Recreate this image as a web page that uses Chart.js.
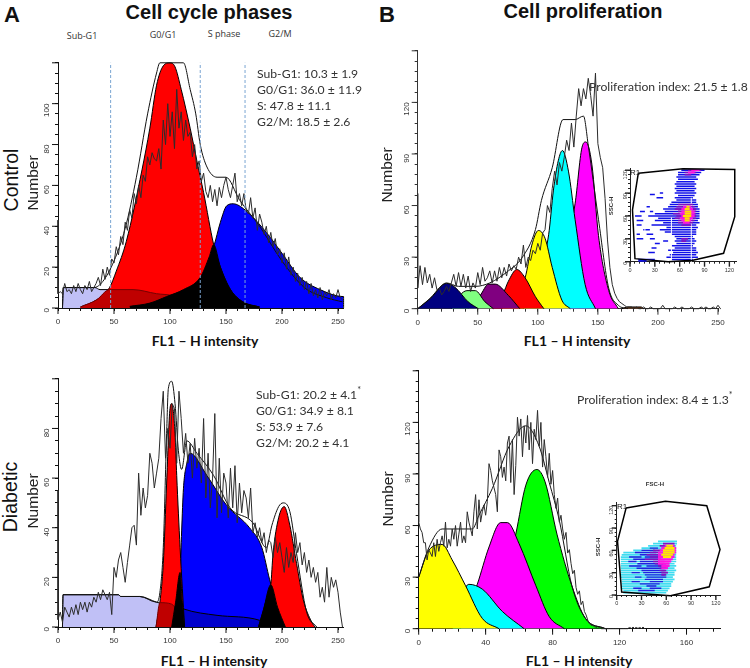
<!DOCTYPE html>
<html>
<head>
<meta charset="utf-8">
<title>Cell cycle phases and cell proliferation</title>
<script src="https://cdn.jsdelivr.net/npm/chart.js@4"></script>
<style>
  html, body { margin:0; padding:0; background:#fff; }
  #page { position:relative; width:750px; height:668px; overflow:hidden; font-family:"Liberation Sans",Arial,sans-serif; color:#111; }
  canvas { position:absolute; }
  .t { position:absolute; transform:translate(-50%,-50%); white-space:nowrap; }
  .l { position:absolute; transform:translateY(-50%); white-space:nowrap; font-family:Lato,sans-serif; font-size:12.2px; color:#333; }
  .panel { font-weight:bold; font-size:22px; }
  .title { font-weight:bold; font-size:20px; }
  .gate { font-family:"Open Sans",sans-serif; font-size:9px; color:#333; }
  .xt { font-family:Lato,sans-serif; font-weight:bold; font-size:14px; }
  .rot { transform:translate(-50%,-50%) rotate(-90deg); }
  .grp { font-size:19.5px; }
  .num { font-size:15.5px; color:#222; }
  .tiny { font-size:6px; color:#333; font-weight:bold; }
  sup { font-size:9px; line-height:0; }
</style>
</head>
<body>
<div id="page">
  <canvas id="aTop"></canvas><canvas id="bTop"></canvas><canvas id="aBot"></canvas><canvas id="bBot"></canvas>
  <canvas id="insetTop"></canvas><canvas id="insetBot"></canvas>

  <div class="t panel" style="left:12px;top:15px">A</div>
  <div class="t panel" style="left:387px;top:15px">B</div>
  <div class="t title" style="left:209px;top:12px">Cell cycle phases</div>
  <div class="t title" style="left:583px;top:11px">Cell proliferation</div>

  <div class="t gate" style="left:82px;top:35px">Sub-G1</div>
  <div class="t gate" style="left:163px;top:34px">G0/G1</div>
  <div class="t gate" style="left:224px;top:33px">S phase</div>
  <div class="t gate" style="left:280px;top:33px">G2/M</div>

  <div class="l" style="left:257px;top:73px">Sub-G1: 10.3 ± 1.9</div>
  <div class="l" style="left:257px;top:89px">G0/G1: 36.0 ± 11.9</div>
  <div class="l" style="left:257px;top:105px">S: 47.8 ± 11.1</div>
  <div class="l" style="left:257px;top:121px">G2/M: 18.5 ± 2.6</div>

  <div class="l" style="left:256px;top:394px">Sub-G1: 20.2 ± 4.1<sup>*</sup></div>
  <div class="l" style="left:256px;top:410px">G0/G1: 34.9 ± 8.1</div>
  <div class="l" style="left:256px;top:426px">S: 53.9 ± 7.6</div>
  <div class="l" style="left:256px;top:442px">G2/M: 20.2 ± 4.1</div>

  <div class="l" style="left:589px;top:86px">Proliferation index: 21.5 ± 1.8</div>
  <div class="l" style="left:577px;top:399px">Proliferation index: 8.4 ± 1.3<sup>*</sup></div>

  <div class="t xt" style="left:205px;top:340px">FL1 – H intensity</div>
  <div class="t xt" style="left:577px;top:340px">FL1 – H intensity</div>
  <div class="t xt" style="left:214px;top:660px">FL1 – H intensity</div>
  <div class="t xt" style="left:579px;top:660px">FL1 – H intensity</div>

  <div class="t rot grp" style="left:11px;top:180px">Control</div>
  <div class="t rot num" style="left:33px;top:183px">Number</div>
  <div class="t rot grp" style="left:10px;top:497px">Diabetic</div>
  <div class="t rot num" style="left:33px;top:501px">Number</div>
  <div class="t rot num" style="left:387px;top:175px">Number</div>
  <div class="t rot num" style="left:388px;top:499px">Number</div>

  <div class="t" style="left:635px;top:172px;font-size:8px">R1</div>
  <div class="t rot tiny" style="left:611px;top:206px">SSC-H</div>
  <div class="t" style="left:622px;top:506px;font-size:8px">R1</div>
  <div class="t rot tiny" style="left:598px;top:547px">SSC-H</div>
  <div class="t tiny" style="left:655px;top:484px">FSC-H</div>
</div>

<script>
const binX = [0,2,4,6,8,10,12,14,16,18,20,22,24,26,28,30,32,34,36,38,40,42,44,46,48,50,52,54,56,58,60,62,64,66,68,70,72,74,76,78,80,82,84,86,88,90,92,94,96,98,100,102,104,106,108,110,112,114,116,118,120,122,124,126,128,130,132,134,136,138,140,142,144,146,148,150,152,154,156,158,160,162,164,166,168,170,172,174,176,178,180,182,184,186,188,190,192,194,196,198,200,202,204,206,208,210,212,214,216,218,220,222,224,226,228,230,232,234,236,238,240,242,244,246,248,250,252,254];

// control, cell cycle
const aTopSpike = 43;
const aTopTrace = [7,8,7,12,8,9,7,11,8,12,9,7,11,9,13,8,10,12,15,11,19,14,20,16,24,22,30,26,35,31,42,38,48,44,56,51,60,54,65,62,74,70,76,73,72,78,68,92,80,100,84,96,78,107,88,96,82,92,84,86,74,80,68,72,62,66,57,54,60,52,58,50,59,54,60,64,58,54,60,66,52,56,50,56,48,46,54,44,49,38,46,42,36,40,32,37,30,34,26,29,22,27,19,25,16,20,13,17,11,15,9,13,7,12,6,9,5,10,4,8,6,9,4,7,5,9,5,4];
const aTopEnvX = [4,5,32,40,50,60,70,80,88,91,112,118,123,127,133,142,150,162,180,200,220,240,254];
const aTopEnvY = [0,10,10,13,23,39,64,95,115,120,120,107,95,80,69,64,64,53,40,23,10,5,3];
const aTopSubX = [4,4.5,33,37.5,67,88,103,125];
const aTopSubY = [0,10,10,9,9,7,6.4,0];
const aTopG1X = [20,34.5,46,52,61,75,82,88,94,100,104.5,110,118,124,130,139,145,154,165,180];
const aTopG1Y = [0.5,4,10,18,32.6,67.6,88,109,118.5,120,118,107,88,72,56.5,31,20,9,3,0.5];
const aTopSX = [64,82,97,112,127,139,145,150.6,156.5,167,186,201,216,234,255,255];
const aTopSY = [0.8,2.4,5.6,9,15,30,42,50,51,48,37,26,15,9,5.6,0];
const aTopDarkX = [20,34.5,46,48,67,88,103,112,125];
const aTopDarkY = [0.5,4,9,9,9,7,6,4,0];
const aTopBlackX = [64,82,97,112,127,135,139,145,154,165,180];
const aTopBlackY = [0.8,2.4,5.6,9,15,25,31,20,9,3,0.5];
const gateLines = [47,127,167];

// diabetic, cell cycle
const aBotSpike = 55;
const aBotTrace = [3,6,2,8,6,4,8,5,9,5,10,7,10,6,10,8,12,10,14,11,15,13,11,14,5,24,20,27,30,24,18,26,33,40,41,33,62,45,56,48,53,70,66,56,62,68,84,95,68,80,72,90,88,66,95,84,70,78,66,74,60,76,64,72,58,84,52,70,48,60,86,44,68,46,62,58,44,64,48,65,42,58,46,55,52,44,56,38,42,36,40,34,38,30,35,34,28,36,30,34,28,22,32,24,30,26,38,30,34,25,30,22,27,20,24,18,22,12,16,10,24,12,20,16,19,14,6,0];
const aBotEnvX = [4,4.5,54,56,73,88,91,94,97,98.5,101.5,104.5,107.5,110.4,115,124,139,153.6,174,186,191,197,201,207,213,222,231];
const aBotEnvY = [0,13,13,12.3,12.3,10,14,32,78,96,99,90,71,63.5,75,70,61,48,42,32,41,48.5,50,46.5,29.5,6,0];
const aBotSubX = [4,4.5,54,56,73,88,112,142,180,190];
const aBotSubY = [0,13,13,12.3,12.3,10,7.3,4.7,2.7,0];
const aBotG1X = [87.5,91,94,97,100,101.5,104.5,106,109,113];
const aBotG1Y = [0,10,25.6,58,88,90,78,61,32,0];
const aBotSX = [101.5,109,110.4,112,115,118,133,150.6,171,182,189,196,203];
const aBotSY = [0,20.4,38.7,55.7,66,70,61,49,40,32,19,8,0];
const aBotG2X = [179,186,190,192,197,202,207,213,219,226.5,229.5];
const aBotG2Y = [0,11,17,29.5,44,48.5,41,25.6,11,2,0];
const aBotDarkRedX = [87.5,91,101.5,113];
const aBotDarkRedY = [0,9.8,9.2,0];
const aBotDarkBlueX = [101.5,109,112,142,180,190];
const aBotDarkBlueY = [0,8,7.3,4.7,2.7,0];
const aBotBlack1X = [101.5,105,109,111,113];
const aBotBlack1Y = [0,10,22,10,0];
const aBotBlack2X = [179,183,190,196,203];
const aBotBlack2Y = [0,6,17,8,0];

// control, proliferation
const bTopSpike = 67;
const bTopTrace = [12,25,14,24,15,20,12,18,11,12,8,10,13,10,15,20,13,21,13,20,12,19,10,15,12,21,14,24,16,18,22,15,22,16,24,18,24,19,26,22,25,23,30,26,37,24,30,28,34,32,38,34,44,46,60,56,70,80,72,85,80,88,98,92,108,94,112,128,118,128,122,134,124,112,137,96,88,82,64,40,24,14,9,6,4,3,2,1,1,1,0,1,0,0,1,0,0,1,0,0,0,0,2,0,0,0,0,1,0,0,1,0,0,0,1,0,0,0,1,0,1,0,0,1,0,2,0,1,0,0];
const bTopEnvX = [0,12,24,34,48,60,75.5,86.7,98,103,112,121,131,138,142,150.5,159,167,175];
const bTopEnvY = [0,7,15,13,13,15,22,29.5,46,63,82,110,110,112,95,52,12,2,0];
const navyX = [0,9,24,31,42,50.5];           const navyY = [0,5,14.7,12.5,4,0];
const lightGreenX = [28,35,41,48,56,63];     const lightGreenY = [0,7.7,10.5,10.5,4,0];
const purpleX = [42,52,59,64.5,75.5,85];     const purpleY = [0,7.7,14.3,14.3,7.7,0];
const redX = [60,71,75.5,82.5,89.4,98,105];  const redY = [0,8.7,16,22.8,18,7,0];
const yellowX = [70,89.4,95,100.5,106,112,120,127];  const yellowY = [0,18,37,45.5,41,24,5,0];
const cyanX = [88,100,109,113,117,120.5,125.5,131,139.4,148];  const cyanY = [0,18,43,69,86,92,80,52,14,0];
const magentaX = [105,120,131,136.7,140,145,150.5,159,167];    const magentaY = [0,24,61,93.6,97,84,42.6,10.6,0];
const brownX = [170,175,186,188];            const brownY = [0,1,1,0];

// diabetic, proliferation: one value per unit, starting at 0
const bBotSpike = 110;
const bBotTrace = [62,58,56,50,50,40,46,44,42,50,42,52,45,50,54,48,62,47,52,48,58,52,60,48,55,62,50,54,50,68,62,58,54,68,78,58,75,62,68,72,66,74,96,92,86,82,78,68,104,100,88,94,86,108,112,85,110,78,95,123,112,122,100,118,108,124,104,120,96,116,110,127,106,120,94,110,100,88,102,84,92,78,70,76,62,66,58,52,56,44,46,38,32,34,24,20,22,14,16,10,8,5,3,2,2,1,1,0,1,0,0,0,0,0,0,0,0,0,0,0,0,0,0,0,0,0,1,0,1,0,1,0,1,0,1,0];
const bBotEnvX = [0,6,14,32,36,44,54,64,72,78,84,91.5,99.6,111.5];
const bBotEnvY = [30,47,58,58,66,81.6,106,118,106,85,63,25,6,0];
const bYellowX = [0,6,14,20,28,38,48];          const bYellowY = [30,45.6,49,40,25,6,0];
const bCyanX = [20,28,30,38,50,63];             const bCyanY = [0,24,25.8,23,10,0];
const bMagentaX = [25,35,42,49,53,60,70,78,87]; const bMagentaY = [0,25.8,47.5,61.7,61.7,49.4,25,7,0];
const bGreenX = [45,58,64,70.6,75.5,82.6,91.5,99.6,111.5]; const bGreenY = [0,55,83.5,92.6,85.4,55,25,6,0];

// density plots: [y, x from, x to]
const topGateX = [10,64,126.5,126.5,113,76,46,6,3,10];
const topGateY = [116,122,121,59,11,2,0,4,68,116];
const topStripes = [[50,0,58],[74,0,84],[18,26,58]];
const topBlue = [[120,62,90],[117,58,86],[114,58,84],[111,56,80],[108,58,82],[105,56,78],[102,54,80],[99,56,78],[96,54,80],[93,56,78],[90,54,80],[90,36,40],[88,24,30],[87,58,78],[84,54,76],[84,32,40],[81,56,80],[78,50,80],[75,48,82],[72,46,82],[72,20,24],[69,40,84],[66,42,84],[66,12,18],[66,24,28],[63,30,84],[60,22,84],[60,6,14],[57,34,84],[54,30,82],[54,8,16],[51,40,84],[48,26,80],[48,8,14],[45,44,82],[42,36,80],[42,16,24],[39,42,80],[36,50,80],[36,8,12],[36,20,28],[33,54,76],[30,56,78],[30,8,16],[30,24,30],[27,54,80],[27,40,46],[24,56,78],[24,30,36],[21,50,76],[18,54,80],[18,26,32],[15,46,80],[12,52,82],[12,22,30],[9,48,80],[6,44,82],[3,50,76],[3,10,30],[1,10,20]];
const topPurple = [[120,70,86],[117,66,80],[114,66,74],[75,58,76],[72,56,78],[69,54,80],[66,58,80],[63,52,80],[60,56,80],[57,54,80],[54,58,78],[51,58,76],[48,62,74],[30,62,70],[27,62,68]];
const topMagenta = [[120,74,84],[117,70,78],[72,64,74],[69,62,76],[66,62,78],[63,60,78],[60,62,78],[57,60,76],[54,62,74],[51,64,72]];
const topYellow = [[72,68,72],[69,66,72],[66,66,74],[63,66,74],[60,64,74],[57,66,72],[54,66,72]];

const botGateX = [11.4,59,109,125,112,65,6,1,11.4];
const botGateY = [117,126,120,61,11,-1,4,72,117];
const botCyan = [[72,50,73],[69,44,73],[66,38,72],[63,30,72],[60,20,72],[57,8,72],[54,6,72],[51,5,72],[48,5,72],[45,5,72],[42,5,70],[39,5,72],[36,5,70],[33,5,72],[30,5,70],[27,5,70],[24,5,68],[21,6,70],[18,6,68],[15,6,66],[12,6,66],[9,6,64],[6,8,62],[3,8,60]];
const botBlue = [[63,40,50],[60,30,46],[57,22,48],[54,28,50],[51,15,30],[51,34,52],[48,20,50],[45,14,24],[45,28,52],[42,25,56],[39,15,30],[39,36,58],[36,24,60],[33,30,58],[30,18,28],[30,32,60],[27,34,58],[24,22,30],[24,36,60],[21,34,56],[18,18,28],[18,40,56],[15,28,52],[12,36,48],[9,20,30],[9,40,54],[6,26,46]];
const botPurple = [[69,56,70],[66,52,70],[60,44,54],[57,40,52],[54,36,54],[51,40,56],[48,34,54],[45,44,58],[42,46,60],[39,50,62],[36,52,62],[33,52,60],[30,54,62],[27,54,60]];
const botMagenta = [[66,58,70],[63,54,72],[60,52,72],[57,50,72],[54,50,70],[51,50,70],[48,50,68],[45,50,66],[42,50,64],[39,54,64],[36,54,62]];
const botYellow = [[66,60,68],[63,58,70],[60,56,70],[57,56,70],[54,54,68],[51,56,66]];

const pts = (xs, ys) => xs.map((x, i) => ({ x, y: ys[i] }));
const runs = list => list.flatMap(([y, a, b]) => [{ x:a, y }, { x:b, y }, { x:NaN, y:NaN }]);
const vruns = list => list.flatMap(([x, a, b]) => [{ x, y:a }, { x, y:b }, { x:NaN, y:NaN }]);

function curve(xs, ys, color, line) {
  return { data:pts(xs, ys), backgroundColor:color, fill:'origin', borderColor:line || '#000', borderWidth:1,
    cubicInterpolationMode:'monotone', pointRadius:0, clip:3 };
}
function stroke(data, color, width) {
  return { data, borderColor:color, borderWidth:width, fill:false, tension:0, pointRadius:0, clip:3 };
}
function smooth(xs, ys) {
  return { ...stroke(pts(xs, ys), '#111', 1), cubicInterpolationMode:'monotone' };
}
function trace(spike, values, xOf) {
  const d = values.map((y, i) => ({ x:xOf(i), y }));
  return stroke([{ x:0, y:spike }, ...d], '#2c2c2c', 1);
}
function dash(x, top) {
  return { ...stroke(pts([x, x], [0, top]), '#7aa5d2', 1), borderDash:[3, 2] };
}

// long marks on the labelled ticks
const majorTicks = {
  id:'majorTicks',
  afterDraw(chart, args, opts) {
    const c = chart.ctx;
    c.save();
    c.strokeStyle = opts.color; c.lineWidth = opts.width;
    for (const id of ['x', 'y']) {
      const s = chart.scales[id];
      const major = id === 'x' ? opts.xMajor : opts.yMajor;
      s.ticks.forEach(t => {
        if (t.value % major) return;
        const p = s.getPixelForValue(t.value);
        c.beginPath();
        if (id === 'x') { c.moveTo(p, s.top); c.lineTo(p, s.top + opts.len); }
        else { c.moveTo(s.right, p); c.lineTo(s.right - opts.len, p); }
        c.stroke();
      });
    }
    c.restore();
  }
};

function draw(id, box, datasets, ax) {
  const left = Math.floor(box.left) - ax.ml, top = Math.floor(box.top) - 6;
  const w = Math.ceil(box.right) + 14 - left, h = Math.ceil(box.bottom) + ax.mb - top;
  const el = document.getElementById(id);
  el.width = w; el.height = h;
  el.style.left = left + 'px'; el.style.top = top + 'px';
  const tickFont = { family:'"Liberation Sans"', size:ax.font };
  new Chart(el, {
    type:'line',
    data:{ datasets },
    plugins:[majorTicks],
    options:{
      responsive:false, animation:false, events:[],
      layout:{ autoPadding:false, padding:{ top:box.top - top, right:left + w - box.right, left:0, bottom:0 } },
      plugins:{ legend:{ display:false }, tooltip:{ enabled:false },
        majorTicks:{ color:ax.color, width:ax.tw, len:ax.len, xMajor:ax.xMajor, yMajor:ax.yMajor } },
      scales:{
        x:{ type:'linear', min:0, max:ax.xMax,
          afterFit:s => { s.height = top + h - box.bottom; },
          border:{ color:ax.color, width:1 },
          grid:{ drawOnChartArea:false, drawTicks:true, tickLength:ax.minor, tickColor:ax.color },
          ticks:{ stepSize:ax.xStep, autoSkip:false, includeBounds:false, maxRotation:0, font:tickFont, color:'#333', padding:ax.pad,
            callback:v => v % ax.xMajor === 0 ? v : '' } },
        y:{ min:0, max:ax.yMax,
          afterFit:s => { s.width = box.left - left; },
          border:{ color:ax.color, width:1 },
          grid:{ drawOnChartArea:false, drawTicks:true, tickLength:ax.minor, tickColor:ax.color },
          ticks:{ stepSize:ax.yStep, autoSkip:false, includeBounds:false, minRotation:90, maxRotation:90, font:tickFont, color:'#333', padding:ax.yPad,
            callback:v => v % ax.yMajor === 0 && v <= ax.yLast ? v : '' } }
      }
    }
  });
}

const mainAxis = { ml:26, mb:22, font:8, minor:3, len:6, tw:1, pad:6, yPad:8, color:'#111' };

draw('aTop', { left:58, right:343.6, top:56.7, bottom:308 }, [
  ...gateLines.map(x => dash(x, 120)),
  trace(aTopSpike, aTopTrace, i => binX[i]),
  smooth(aTopEnvX, aTopEnvY),
  curve(aTopBlackX, aTopBlackY, '#000'),
  curve(aTopDarkX, aTopDarkY, '#bf0000', '#700'),
  curve(aTopG1X, aTopG1Y, '#ff0000'),
  curve(aTopSX, aTopSY, '#0000ff'),
  curve(aTopSubX, aTopSubY, '#c0c0f6')
], { ...mainAxis, xMax:255, yMax:120, xStep:10, xMajor:50, yStep:5, yMajor:20, yLast:100 });

draw('aBot', { left:58, right:343.6, top:372.7, bottom:627 }, [
  trace(aBotSpike, aBotTrace, i => binX[i]),
  smooth(aBotEnvX, aBotEnvY),
  curve(aBotBlack1X, aBotBlack1Y, '#000'),
  curve(aBotBlack2X, aBotBlack2Y, '#000'),
  curve(aBotDarkRedX, aBotDarkRedY, '#bf0000', '#700'),
  curve(aBotG1X, aBotG1Y, '#ff0000'),
  curve(aBotG2X, aBotG2Y, '#ff0000'),
  curve(aBotDarkBlueX, aBotDarkBlueY, '#0000cc', '#000'),
  curve(aBotSX, aBotSY, '#0000ff'),
  curve(aBotSubX, aBotSubY, '#c0c0f6')
], { ...mainAxis, xMax:255, yMax:100, xStep:10, xMajor:50, yStep:5, yMajor:20, yLast:80 });

draw('bTop', { left:417.7, right:718, top:44.3, bottom:308.7 }, [
  trace(bTopSpike, bTopTrace, i => binX[i]),
  smooth(bTopEnvX, bTopEnvY),
  curve(navyX, navyY, '#000080'),
  curve(lightGreenX, lightGreenY, '#80ff80'),
  curve(purpleX, purpleY, '#800080'),
  curve(redX, redY, '#ff0000'),
  curve(yellowX, yellowY, '#ffff00'),
  curve(cyanX, cyanY, '#00ffff'),
  curve(magentaX, magentaY, '#ff00ff'),
  curve(brownX, brownY, '#8b4513')
], { ...mainAxis, xMax:250, yMax:150, xStep:10, xMajor:50, yStep:6, yMajor:30, yLast:120, color:'#333' });

draw('bBot', { left:418.7, right:720, top:364, bottom:628.7 }, [
  trace(bBotSpike, bBotTrace, i => i),
  smooth(bBotEnvX, bBotEnvY),
  curve(bYellowX, bYellowY, '#ffff00'),
  curve(bCyanX, bCyanY, '#00ffff'),
  curve(bMagentaX, bMagentaY, '#ff00ff'),
  curve(bGreenX, bGreenY, '#00ff00')
], { ...mainAxis, xMax:180, yMax:150, xStep:8, xMajor:40, yStep:6, yMajor:30, yLast:120 });

const insetAxis = { ml:12, mb:14, font:5.5, minor:2, len:5, tw:1.4, pad:3, yPad:3, color:'#222', xStep:6, xMajor:30, yStep:6, yMajor:30, yLast:120 };

draw('insetTop', { left:630, right:736, top:168.7, bottom:261.7 }, [
  stroke(pts(topGateX, topGateY), '#000', 1.5),
  stroke(runs(topYellow), '#ffe000', 2),
  stroke(runs(topMagenta), '#ff10e0', 2),
  stroke(runs(topPurple), '#8010c0', 1.6),
  stroke(vruns(topStripes), '#fff', 1),
  stroke(runs(topBlue), '#1010e8', 1.5)
], { ...insetAxis, xMax:128, yMax:122 });

draw('insetBot', { left:616.7, right:720, top:502.7, bottom:595 }, [
  stroke(pts(botGateX, botGateY), '#000', 1.5),
  stroke(runs(botYellow), '#ffe800', 2),
  stroke(runs(botMagenta), '#ff10e0', 2),
  stroke(runs(botPurple), '#8010c0', 1.6),
  stroke(runs(botBlue), '#2020e0', 1.4),
  stroke(runs(botCyan), '#40dcf0', 1.7)
], { ...insetAxis, xMax:125, yMax:124 });
</script>
</body>
</html>
